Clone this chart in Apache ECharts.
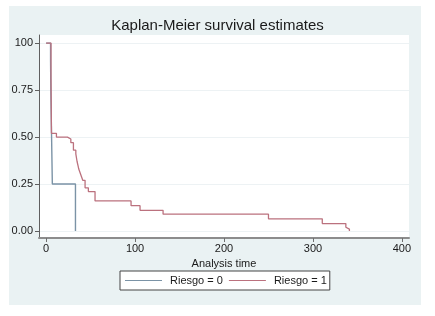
<!DOCTYPE html>
<html>
<head>
<meta charset="utf-8">
<script src="https://cdn.jsdelivr.net/npm/echarts@6/dist/echarts.min.js"></script>
<style>html,body{margin:0;padding:0;background:#fff;}#c{width:435px;height:316px;}</style>
</head>
<body>
<div id="c"></div>
<script>
// Data
var seriesNames = ['Riesgo = 0', 'Riesgo = 1'];
var riesgo0Times = [0, 5, 5.3, 7, 33];
var riesgo0Surv  = [1, 0.909, 0.75, 0.25, 0];
var riesgo1Times = [0, 5.5, 6, 11.6, 24, 27.8, 30.7, 33.4, 34.8, 36, 36.7, 38.2, 39.7, 41.2, 43.8, 47.5, 55, 95.5, 105.6, 131.5, 250, 310.5, 337, 339, 341];
var riesgo1Surv  = [1, 0.82, 0.52, 0.50, 0.49, 0.47, 0.43, 0.41, 0.37, 0.345, 0.33, 0.31, 0.29, 0.27, 0.23, 0.21, 0.16, 0.135, 0.11, 0.09, 0.065, 0.04, 0.02, 0.01, 0];
var xTicks = [0, 100, 200, 300, 400];
var yTicks = [0, 0.25, 0.5, 0.75, 1];
var yTickLabels = ['0.00', '0.25', '0.50', '0.75', '100'];

function pairs(xs, ys) { return xs.map(function (x, i) { return [x, ys[i]]; }); }

var chart = echarts.init(document.getElementById('c'), null, {renderer: 'canvas'});
var font = 'Liberation Sans, Arial, sans-serif';
chart.setOption({
  animation: false,
  backgroundColor: '#ffffff',
  graphic: [{
    type: 'rect', z: -10, silent: true,
    shape: {x: 9, y: 6, width: 412, height: 299},
    style: {fill: '#eaf2f3'}
  }],
  title: {
    text: 'Kaplan-Meier survival estimates',
    left: 'center', top: 13,
    textStyle: {fontFamily: font, fontSize: 15, fontWeight: 'normal', color: '#1a1a1a'}
  },
  grid: {
    left: 39, right: 26, top: 35, bottom: 78,
    show: true, backgroundColor: '#ffffff', borderWidth: 0
  },
  legend: {
    data: seriesNames,
    left: 120, top: 271,
    orient: 'horizontal',
    icon: 'rect', itemWidth: 37, itemHeight: 1, itemGap: 6,
    backgroundColor: '#ffffff', borderColor: '#444', borderWidth: 1,
    padding: [4, 3, 4, 5],
    textStyle: {fontFamily: font, fontSize: 11, color: '#1a1a1a', padding: [0, 0, 0, 3]}
  },
  xAxis: {
    type: 'value', min: -8, max: 408,
    name: 'Analysis time', nameLocation: 'middle', nameGap: 19,
    nameTextStyle: {fontFamily: font, fontSize: 11, color: '#1a1a1a'},
    axisLine: {show: true, onZero: false, lineStyle: {color: '#8c8c8c', width: 2}},
    axisTick: {show: true, length: 4, customValues: xTicks, lineStyle: {color: '#707070'}},
    axisLabel: {customValues: xTicks, margin: 5, fontFamily: font, fontSize: 11, color: '#1a1a1a'},
    splitLine: {show: false}
  },
  yAxis: {
    type: 'value', min: -0.037, max: 1.043,
    axisLine: {show: true, onZero: false, lineStyle: {color: '#606060', width: 1}},
    axisTick: {show: true, length: 4, customValues: yTicks, lineStyle: {color: '#606060'}},
    axisLabel: {
      customValues: yTicks, margin: 6, fontFamily: font, fontSize: 11, color: '#1a1a1a',
      formatter: function (v) {
        for (var i = 0; i < yTicks.length; i++) if (Math.abs(yTicks[i] - v) < 1e-9) return yTickLabels[i];
        return '';
      }
    },
    splitLine: {show: false}
  },
  series: [
    {
      name: seriesNames[0], type: 'line', step: 'end', symbol: 'none',
      data: pairs(riesgo0Times, riesgo0Surv),
      lineStyle: {color: '#7b93a6', width: 1.4},
      itemStyle: {color: '#7b93a6'},
      markLine: {
        silent: true, symbol: 'none', label: {show: false},
        lineStyle: {color: '#edf2f4', width: 1, type: 'solid'},
        data: yTicks.map(function (v) { return {yAxis: v}; }),
        z: 0
      },
      z: 3
    },
    {
      name: seriesNames[1], type: 'line', step: 'end', symbol: 'none',
      data: pairs(riesgo1Times, riesgo1Surv),
      lineStyle: {color: '#bb717e', width: 1.3},
      itemStyle: {color: '#bb717e'},
      z: 4
    }
  ]
});
</script>
</body>
</html>
